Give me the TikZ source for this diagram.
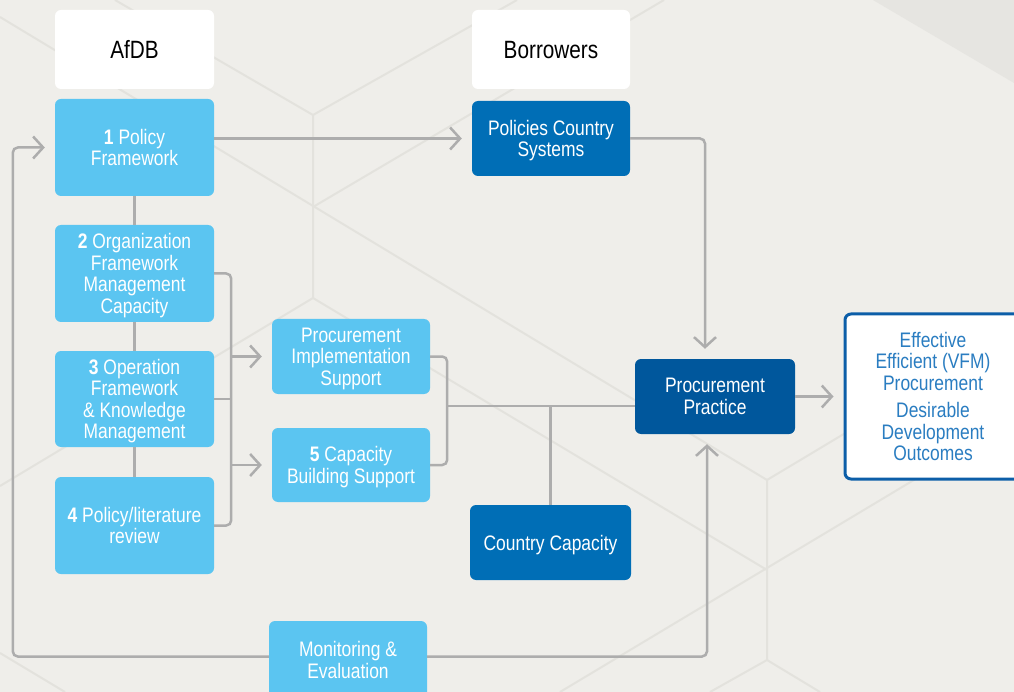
\documentclass[tikz,border=0pt]{standalone}
\usepackage{fontspec}
\setmainfont{Liberation Sans}[FakeStretch=0.83]
\usetikzlibrary{arrows.meta}

\definecolor{paper}{HTML}{EFEEEA}
\definecolor{papershade}{HTML}{E6E5E1}
\definecolor{hexgray}{HTML}{E3E2DD}
\definecolor{sky}{HTML}{5BC5F1}
\definecolor{ocean}{HTML}{006EB6}
\definecolor{navy}{HTML}{00579C}
\definecolor{linegray}{HTML}{ADADAD}
\definecolor{outline}{HTML}{0C5EA8}
\definecolor{outtext}{HTML}{2A7DC1}

\tikzset{
  box/.style={rectangle, rounded corners=6pt, inner sep=0pt, align=center,
    text=white, text depth=0pt, font=\fontsize{21}{21.5}\selectfont},
  lightbox/.style={box, fill=sky, minimum width=159pt, minimum height=97pt},
  darkbox/.style={box, fill=ocean, minimum width=158pt, minimum height=75pt},
  headbox/.style={box, fill=white, text=black, minimum width=159pt,
    minimum height=79pt, font=\fontsize{25}{27}\selectfont},
  wire/.style={draw=linegray, line width=2.5pt, rounded corners=5pt},
  feed/.style={wire, -{Straight Barb[length=10pt,width=22pt]}, shorten >=10pt},
  hex/.style={draw=hexgray, line width=2pt},
}

\begin{document}
\begin{tikzpicture}[x=1pt,y=-1pt]
\useasboundingbox (0,0) rectangle (1014,692);
\fill[paper] (0,0) rectangle (1014,692);
\clip (0,0) rectangle (1014,692);
\fill[papershade] (873,0) -- (1014,0) -- (1014,83) -- cycle;

% faint hexagon pattern behind everything
\draw[hex] (0,17) -- (767,480) -- (767,660);
\draw[hex] (115,0) -- (313,115) -- (313,298);
\draw[hex] (517,0) -- (313,115);
\draw[hex] (664,0) -- (313,207);
\draw[hex] (0,486) -- (313,298) -- (767,570);
\draw[hex] (560,692) -- (1014,420);
\draw[hex] (767,480) -- (1014,332);
\draw[hex] (710,692) -- (767,660) -- (820,692);
\draw[hex] (0,653) -- (65,692);

% column heads
\node[headbox] (afdb) at (134.5,49.5) {AfDB};
\node[headbox, minimum width=158pt] (borrowers) at (551,49.5) {Borrowers};

% AfDB side
\node[lightbox] (policy) at (134.5,147.5) {\textbf{1} Policy\\Framework};
\node[lightbox] (orgfw) at (134.5,273.5) {\textbf{2} Organization\\Framework\\Management\\Capacity};
\node[lightbox, minimum height=96pt] (opfw) at (134.5,399) {\textbf{3} Operation\\Framework\\\& Knowledge\\Management};
\node[lightbox] (review) at (134.5,525.5) {\textbf{4} Policy/literature\\review};

\node[lightbox, minimum width=158pt, minimum height=75pt] (impl) at (351,356.5) {Procurement\\Implementation\\Support};
\node[lightbox, minimum width=158pt, minimum height=74pt] (capbuild) at (351,465) {\textbf{5} Capacity\\Building Support};
\node[lightbox, minimum width=158pt, minimum height=78pt] (monitor) at (348,660) {Monitoring \&\\Evaluation};

% borrower side
\node[darkbox] (pcs) at (551,138.5) {Policies Country\\Systems};
\node[darkbox, minimum width=161pt] (ccap) at (550.5,542.5) {Country Capacity};
\node[darkbox, fill=navy, minimum width=160pt] (practice) at (715,396.5) {Procurement\\Practice};

\node[box, fill=white, draw=outline, line width=3pt, text=outtext,
  minimum width=176pt, minimum height=165pt] (outcome) at (933,396.5)
  {Effective\\Efficient (VFM)\\Procurement\\[6pt]Desirable\\Development\\Outcomes};

% connectors
\draw[wire] (policy) -- (orgfw) (orgfw) -- (opfw) (opfw) -- (review);
\draw[feed] (policy.east |- pcs.west) -- (pcs.west);
\draw[feed] (pcs.east) -| ([xshift=-10pt]practice.north);

\coordinate (fork) at ([xshift=17pt]orgfw.east);
\draw[wire] (orgfw.east) -- (fork) |- (review.east);
\draw[wire] (opfw.east) -- (fork |- opfw.east);
\draw[feed] (fork |- impl.west) -- (impl.west);
\draw[feed] (fork |- capbuild.west) -- (capbuild.west);

\coordinate (merge) at ([xshift=17pt]impl.east);
\coordinate (hub) at (447,406);
\draw[wire] (impl.east) -- (merge) |- (capbuild.east);
\draw[wire] (hub) -- (hub -| practice.west);
\draw[wire] (ccap.north) -- (ccap.north |- hub);
\draw[feed] (practice.east) -- (outcome.west);

% monitoring feeds back
\draw[feed] ([yshift=3.5pt]monitor.west) -| ([xshift=-42pt]policy.west) -- (policy.west);
\draw[feed] ([yshift=3.5pt]monitor.east) -| ([xshift=-8pt]practice.south);
\end{tikzpicture}
\end{document}
